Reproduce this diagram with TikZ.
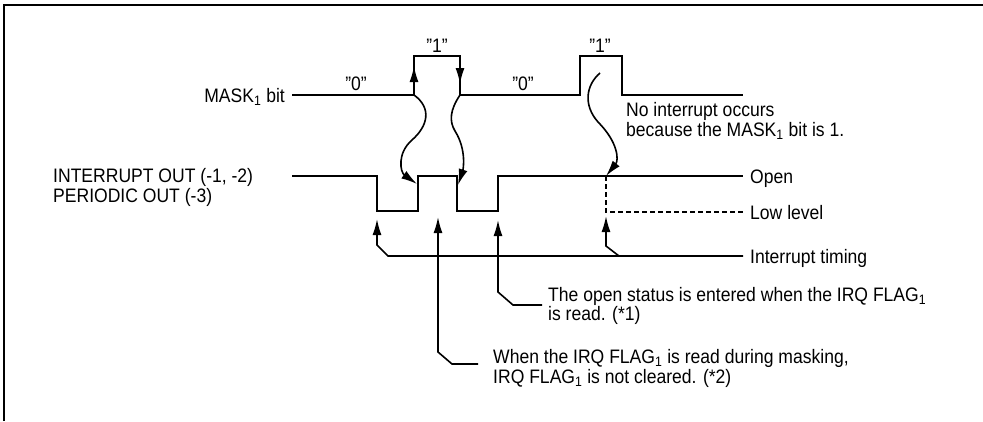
\documentclass[tikz,border=0pt]{standalone}
\usepackage{fontspec}
\setmainfont[FakeStretch=0.9]{Liberation Sans}
\usetikzlibrary{arrows.meta}
\tikzset{
  wave/.style={line width=2.2pt, line join=miter},
  conn/.style={line width=1.6pt, line join=miter},
  tipped/.style={-{Latex[length=16pt,width=9pt]}},
  lbl/.style={inner sep=0pt, anchor=base west, font=\fontsize{19.5}{19.5}\selectfont, align=left},
  frame/.style={line width=2.5pt},
}
\begin{document}
\begin{tikzpicture}[x=1pt,y=-1pt]
\useasboundingbox (0,0) rectangle (983,421);
\draw[frame] (4,421) -- (4,5) -- (983,5);

% labels (multi-line nodes: base = baseline of last line)
\node[lbl, anchor=base east] (mask) at (285,102) {MASK\textsubscript{1} bit};
\node[lbl] (intout) at (53,202) {INTERRUPT OUT (-1, -2)\\PERIODIC OUT (-3)};
\node[lbl, anchor=base] (z1) at (356,90) {"0"};
\node[lbl, anchor=base] (o1) at (437,52) {"1"};
\node[lbl, anchor=base] (z2) at (523,90) {"0"};
\node[lbl, anchor=base] (o2) at (600,52) {"1"};
\node[lbl, font=\fontsize{19.5}{18}\selectfont] (noint) at (626,136) {No interrupt occurs\\because the MASK\textsubscript{1} bit is 1.};
\node[lbl] (open) at (750,183) {Open};
\node[lbl] (low) at (750,219) {Low level};
\node[lbl] (itim) at (750,263) {Interrupt timing};
\node[lbl, font=\fontsize{19.5}{19}\selectfont] (ostat) at (548,320) {The open status is entered when the IRQ FLAG\textsubscript{1}\\is read. (*1)};
\node[lbl, font=\fontsize{19.5}{20}\selectfont] (mread) at (493,383) {When the IRQ FLAG\textsubscript{1} is read during masking,\\IRQ FLAG\textsubscript{1} is not cleared. (*2)};

% waveform coordinates
\coordinate (m0) at (292,95);
\coordinate (m1) at (414,95);
\coordinate (m2) at (414,56);
\coordinate (m3) at (460,56);
\coordinate (m4) at (460,95);
\coordinate (m5) at (580,95);
\coordinate (m6) at (580,56);
\coordinate (m7) at (622,56);
\coordinate (m8) at (622,95);
\coordinate (m9) at (743,95);
\coordinate (i0) at (292,176);
\coordinate (i1) at (377,176);
\coordinate (i2) at (377,211);
\coordinate (i3) at (418,211);
\coordinate (i4) at (418,176);
\coordinate (i5) at (457,176);
\coordinate (i6) at (457,211);
\coordinate (i7) at (498,211);
\coordinate (i8) at (498,176);
\coordinate (i9) at (743,176);

\draw[wave] (m0) -- (m1) -- (m2) -- (m3) -- (m4) -- (m5) -- (m6) -- (m7) -- (m8) -- (m9);
\draw[wave] (i0) -- (i1) -- (i2) -- (i3) -- (i4) -- (i5) -- (i6) -- (i7) -- (i8) -- (i9);

% edge arrow marks on mask pulse
\coordinate (upt) at (414,66);
\coordinate (dnt) at (460,84);
\draw[conn, tipped] (m1) -- (upt);
\draw[conn, tipped] (m3) -- (dnt);

% curved arrows
\coordinate (ca) at (417,184);
\coordinate (cb) at (458,185);
\coordinate (cs) at (600,73);
\coordinate (cc) at (606,176);
\draw[conn, tipped] (m1) .. controls (432,108) and (428,126) .. (412,140) .. controls (397,153) and (400,172) .. (ca);
\draw[conn, tipped] (m4) .. controls (450,110) and (449,121) .. (455,131) .. controls (467,150) and (463,170) .. (cb);
\draw[conn, tipped] (cs) .. controls (586,85) and (583,105) .. (598,122) .. controls (618,142) and (619,160) .. (cc);

% low level dashed
\coordinate (d1) at (606,212);
\coordinate (d2) at (743,212);
\draw[conn, dash pattern=on 5pt off 3pt] (cc) -- (d1) -- (d2);

% interrupt timing bus
\coordinate (b0) at (743,256);
\coordinate (b1) at (388,256);
\coordinate (b2) at (377,245);
\coordinate (t1) at (377,219);
\coordinate (b3) at (619,256);
\coordinate (b4) at (606,246);
\coordinate (t3) at (606,216);
\draw[conn, tipped] (b0) -- (b1) -- (b2) -- (t1);
\draw[conn, tipped] (b3) -- (b4) -- (t3);

% open status arrow
\coordinate (e1) at (542,305);
\coordinate (e2) at (513,305);
\coordinate (e3) at (498,292);
\coordinate (t2) at (498,220);
\draw[conn, tipped] (e1) -- (e2) -- (e3) -- (t2);

% masking arrow
\coordinate (f1) at (478,364);
\coordinate (f2) at (452,364);
\coordinate (f3) at (438,352);
\coordinate (t4) at (438,217);
\draw[conn, tipped] (f1) -- (f2) -- (f3) -- (t4);
\end{tikzpicture}
\end{document}
